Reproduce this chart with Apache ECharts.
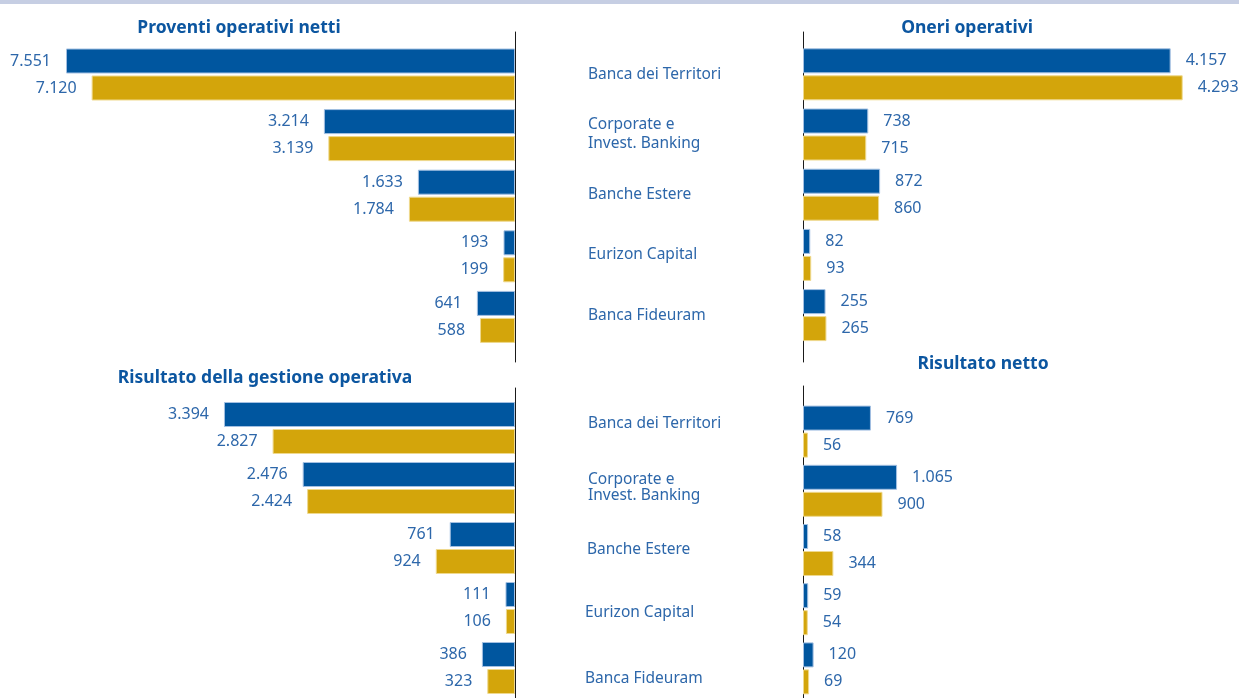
<!DOCTYPE html>
<html>
<head>
<meta charset="utf-8">
<script src="https://cdn.jsdelivr.net/npm/echarts@6/dist/echarts.min.js"></script>
<style>html,body{margin:0;padding:0;background:#fff}#c{width:1239px;height:698px}</style>
</head>
<body>
<div id="c"></div>
<script>
const categories = ['Banca dei Territori', 'Corporate e\nInvest. Banking', 'Banche Estere', 'Eurizon Capital', 'Banca Fideuram'];
const titles = ['Proventi operativi netti', 'Oneri operativi', 'Risultato della gestione operativa', 'Risultato netto'];
const proventiBlue = [7551, 3214, 1633, 193, 641];
const proventiGold = [7120, 3139, 1784, 199, 588];
const oneriBlue = [4157, 738, 872, 82, 255];
const oneriGold = [4293, 715, 860, 93, 265];
const gestioneBlue = [3394, 2476, 761, 111, 386];
const gestioneGold = [2827, 2424, 924, 106, 323];
const nettoBlue = [769, 1065, 58, 59, 120];
const nettoGold = [56, 900, 344, 54, 69];

const BLUE = '#00569f', GOLD = '#d3a50b', LBL = '#2d67aa', TTL = '#0c56a0', FONT = 'Noto Sans';
const BLUE_EDGE = '#a3c0e2', GOLD_EDGE = '#efd98e';
const fmt = v => String(v).replace(/\B(?=(\d{3})+(?!\d))/g, '.');

const grids = [
  {left: 39.3, right: 724, top: 44.2, height: 303},
  {left: 803, right: 38, top: 44.2, height: 301},
  {left: 172, right: 724, top: 398, height: 304.4},
  {left: 803, right: 330, top: 402, height: 305},
  {left: 415, right: 724, top: 32, height: 330},
  {left: 803, width: 100, top: 32, height: 330},
  {left: 415, right: 724, top: 388, height: 320},
  {left: 803, width: 100, top: 386, height: 320}
];
const maxes = [8000, 4500, 4000, 1200];
const isLeft = [true, false, true, false];

// per-row label nudges for the lower middle labels (rich text padding)
const lowerRich = {};
const lowerPad = [[0, 0, 8, 3], [0, 0, 0, 3], [4, 0, 0, 2], [10, 0, 0, 0], [22, 0, 0, 0]];
lowerPad.forEach((p, k) => {
  lowerRich['c' + k] = {color: LBL, fontSize: 15.5, fontFamily: FONT, lineHeight: 16, padding: p};
});

const xAxis = [], yAxis = [], series = [];
const data = [[proventiBlue, proventiGold], [oneriBlue, oneriGold], [gestioneBlue, gestioneGold], [nettoBlue, nettoGold]];
for (let i = 0; i < 4; i++) {
  xAxis.push({gridIndex: i, type: 'value', min: 0, max: maxes[i], inverse: isLeft[i], show: false});
  const y = {gridIndex: i, type: 'category', data: categories, inverse: true,
    position: isLeft[i] ? 'right' : 'left',
    axisLine: {show: false}, axisTick: {show: false}, axisLabel: {show: false}, splitLine: {show: false}};
  if (i === 1) {
    y.axisLabel = {show: true, margin: 215, align: 'left', color: LBL, fontSize: 15.5, fontFamily: FONT, lineHeight: 19};
  }
  if (i === 2) {
    y.axisLabel = {show: true, margin: 70, align: 'left', color: LBL, fontSize: 15.5, fontFamily: FONT, lineHeight: 16,
      formatter: (v, idx) => v.split('\n').map(s => '{c' + idx + '|' + s + '}').join('\n'),
      rich: lowerRich};
  }
  yAxis.push(y);
  [[BLUE, BLUE_EDGE], [GOLD, GOLD_EDGE]].forEach((c, k) => {
    series.push({
      type: 'bar', name: k === 0 ? 'Anno corrente' : 'Anno precedente',
      xAxisIndex: i, yAxisIndex: i, data: data[i][k],
      barWidth: 25, barGap: '8%',
      itemStyle: {color: c[0], borderColor: c[1], borderWidth: 1},
      label: {show: true, position: isLeft[i] ? 'left' : 'right', distance: 15,
        color: LBL, fontSize: 16, fontFamily: FONT, formatter: p => fmt(p.value)},
      silent: true, animation: false
    });
  });
}
for (let i = 4; i < 8; i++) {
  xAxis.push({gridIndex: i, type: 'value', min: 0, max: 1, show: false});
  yAxis.push({gridIndex: i, type: 'value', position: (i === 4 || i === 6) ? 'right' : 'left',
    axisLine: {show: true, onZero: false, lineStyle: {color: '#1a1a1a', width: 1}},
    axisTick: {show: false}, axisLabel: {show: false}, splitLine: {show: false}});
}

const titlePos = [[234, 14], [962, 14], [260, 364], [978, 350]];
const title = titles.map((t, i) => ({
  text: t, left: titlePos[i][0], top: titlePos[i][1], textAlign: 'center',
  textStyle: {color: TTL, fontSize: 17.5, fontWeight: 'bold', fontFamily: FONT}
}));

const chart = echarts.init(document.getElementById('c'), null, {renderer: 'canvas'});
chart.setOption({
  animation: false,
  title: title,
  grid: grids,
  xAxis: xAxis,
  yAxis: yAxis,
  series: series,
  graphic: [{type: 'rect', shape: {x: 0, y: 0, width: 1239, height: 4}, style: {fill: '#c6cee3'}}]
});
</script>
</body>
</html>
